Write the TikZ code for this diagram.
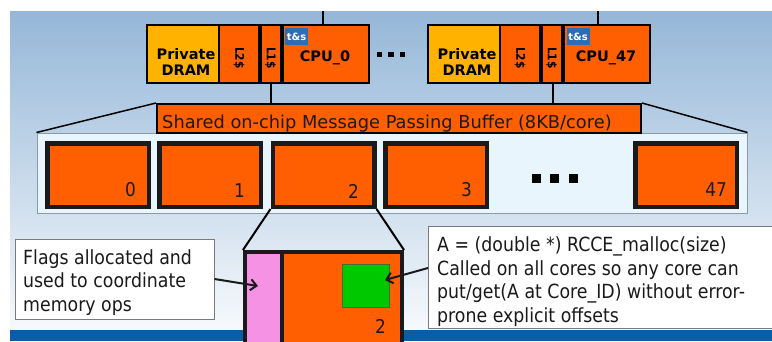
\documentclass[tikz,border=0pt]{standalone}
\usepackage{fontspec}
\setmainfont{DejaVu Sans}[FakeStretch=0.89]
\newfontfamily\widefont{DejaVu Sans}
\usetikzlibrary{arrows.meta}
\definecolor{orng}{HTML}{FF5F00}
\definecolor{yel}{HTML}{FFB300}
\definecolor{pnk}{HTML}{F592E4}
\definecolor{grn}{HTML}{00C800}
\definecolor{grnline}{HTML}{3F6E30}
\definecolor{tsblue}{HTML}{2D6DB5}
\definecolor{band}{HTML}{0A5DA6}
\definecolor{bgtop}{HTML}{95B7D8}
\definecolor{bgbot}{HTML}{F6F9FC}
\definecolor{panelfill}{HTML}{E8F5FD}
\definecolor{panelline}{HTML}{8C9AA6}
\definecolor{callline}{HTML}{7A7A7A}
\definecolor{txt}{HTML}{1A1A1A}
\begin{document}
\begin{tikzpicture}[x=1pt,y=-1pt,
  cell/.style={draw=black,line width=2.5pt,fill=orng,inner sep=0pt,minimum height=58pt},
  dramcell/.style={cell,fill=yel},
  topbold/.style={font=\widefont\bfseries\fontsize{14.5}{17}\selectfont,inner sep=0pt,align=center},
  cachelbl/.style={font=\bfseries\fontsize{12}{12}\selectfont,inner sep=0pt,rotate=-90},
  tsbadge/.style={fill=tsblue,inner sep=0pt,minimum width=23pt,minimum height=17pt,text=white,font=\widefont\bfseries\fontsize{10}{10}\selectfont},
  slot/.style={draw=txt,line width=4.5pt,fill=orng,inner sep=0pt,minimum width=101.5pt,minimum height=63.5pt},
  numlbl/.style={font=\fontsize{19}{19}\selectfont,text=txt,inner sep=0pt,anchor=base east},
  dotsq/.style={fill=black,inner sep=0pt},
  callout/.style={draw=callline,line width=1pt,fill=white,inner sep=0pt},
  calltxt/.style={font=\fontsize{19.5}{23.5}\selectfont,text=txt,align=left,inner sep=0pt,anchor=north west},
  conn/.style={draw=black,line width=2pt},
  arr/.style={draw=txt,line width=2pt,-{Straight Barb[length=6pt,width=11pt,line width=2pt]}}
]
\useasboundingbox (0,0) rectangle (772,341);
\clip (0,0) rectangle (772,341);
% background
\fill[white] (0,0) rectangle (772,341);
\shade[top color=bgtop,bottom color=bgbot] (10,11) rectangle (772,330);
\fill[band] (10,330) rectangle (772,341);

% top vertical lines
\coordinate (topA) at (323,11);
\coordinate (topB) at (598,11);

% CPU group 0
\node[dramcell,minimum width=72pt] (dram0) at (183,54) {};
\node[cell,minimum width=40pt] (ltwo0) at (239,54) {};
\node[cell,minimum width=20.5pt] (lone0) at (270.75,54) {};
\node[cell,minimum width=86.5pt] (cpu0) at (325.75,54) {};
\node[topbold] (dramtxt0) at (186,62) {Private\\[-1pt]DRAM};
\node[cachelbl] (ltwotxt0) at (239,58) {L2\$};
\node[cachelbl] (lonetxt0) at (270.5,58) {L1\$};
\node[topbold,anchor=base] (cputxt0) at (325,61) {CPU\_0};
\node[tsbadge] (ts0) at (296.5,36.5) {t\&s};

% CPU group 47
\node[dramcell,minimum width=72pt] (dram47) at (464,54) {};
\node[cell,minimum width=40pt] (ltwo47) at (520,54) {};
\node[cell,minimum width=20.5pt] (lone47) at (551.75,54) {};
\node[cell,minimum width=86.5pt] (cpu47) at (606.75,54) {};
\node[topbold] (dramtxt47) at (467,62) {Private\\[-1pt]DRAM};
\node[cachelbl] (ltwotxt47) at (520,58) {L2\$};
\node[cachelbl] (lonetxt47) at (551.5,58) {L1\$};
\node[topbold,anchor=base] (cputxt47) at (606,61) {CPU\_47};
\node[tsbadge] (ts47) at (578,36.5) {t\&s};

\draw[conn] (topA) -- (topA |- cpu0.north);
\draw[conn] (topB) -- (topB |- cpu47.north);

% dots between groups
\foreach \xx/\nm in {379.5/da,391/db,402.5/dc}
  \node[dotsq,minimum size=5.5pt] (\nm) at (\xx,54.5) {};

% panel and buffer
\node[draw=panelline,line width=1pt,fill=panelfill,minimum width=710pt,minimum height=80pt,inner sep=0pt] (panel) at (392,173) {};
\node[draw=black,line width=2pt,fill=orng,minimum width=484pt,minimum height=29pt,inner sep=0pt] (buf) at (399,118.5) {};
\node[font=\widefont\fontsize{17.8}{17.8}\selectfont,text=txt,inner sep=0pt,anchor=base west] (buftxt) at (162,128) {Shared on-chip Message Passing Buffer (8KB/core)};
\draw[conn] (lone0.south) -- (lone0.south |- buf.north);
\coordinate (bufB) at (553,83);
\draw[conn] (bufB) -- (bufB |- buf.north);
\draw[conn,line width=1.5pt] (buf.north west) -- (panel.north west);
\draw[conn,line width=1.5pt] (buf.north east) -- (panel.north east);

% slots
\node[slot] (s0) at (98,175) {};
\node[slot] (s1) at (210,175) {};
\node[slot] (s2) at (323.5,175) {};
\node[slot] (s3) at (436,175) {};
\node[slot] (s47) at (686,175) {};
\node[numlbl] (n0) at (136,196) {0};
\node[numlbl] (n1) at (245,197) {1};
\node[numlbl] (n2) at (359,198) {2};
\node[numlbl] (n3) at (472,196) {3};
\node[numlbl] (n47) at (727,196) {47};
\foreach \xx/\nm in {536/pa,554.5/pb,573/pc}
  \node[dotsq,minimum size=9pt] (\nm) at (\xx,178) {};

% expanded slot
\node[draw=txt,line width=4pt,fill=pnk,minimum width=37pt,minimum height=100pt,inner sep=0pt,anchor=north west] (flags) at (243,250) {};
\node[draw=txt,line width=4pt,fill=orng,minimum width=120pt,minimum height=100pt,inner sep=0pt,anchor=north west] (big) at (280,250) {};
\node[draw=grnline,line width=1pt,fill=grn,minimum width=47pt,minimum height=43pt,inner sep=0pt] (green) at (365.5,285.5) {};
\node[numlbl] (nbig) at (386,333) {2};
\draw[conn] (s2.south west) -- (flags.north west);
\draw[conn] (s2.south east) -- (big.north east);

% callouts
\node[callout,minimum width=199pt,minimum height=80pt] (cl) at (114.5,279) {};
\node[calltxt] (cltxt) at (23,249) {Flags allocated and\\used to coordinate\\memory ops};
\node[callout,minimum width=380pt,minimum height=102pt,anchor=north west] (cr) at (428,226) {};
\node[calltxt] (crtxt) at (437,236.5) {A = (double *) RCCE\_malloc(size)\\Called on all cores so any core can\\put/get(A at Core\_ID) without error-\\prone explicit offsets};

\coordinate (flagtip) at (258,286);
\coordinate (crstart) at (428,268);
\coordinate (greentip) at (385,280);
\draw[arr] (cl.east) -- (flagtip);
\draw[arr] (crstart) -- (greentip);
\end{tikzpicture}
\end{document}
